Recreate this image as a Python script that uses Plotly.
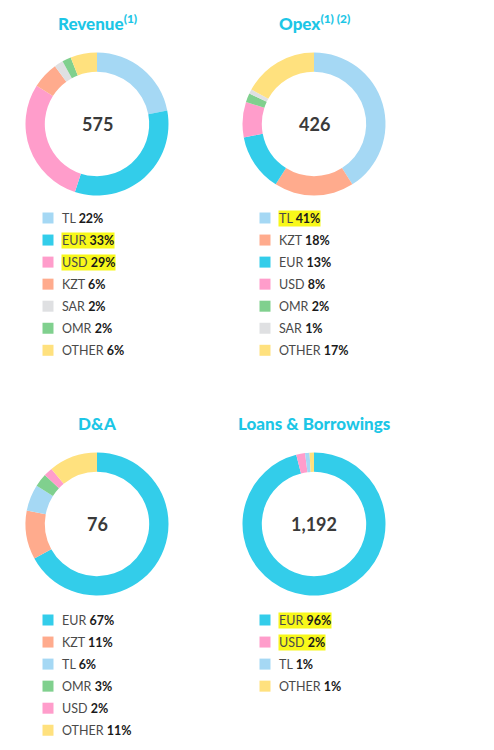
import plotly.graph_objects as go

# --- Data ---
revenue_labels = ["TL", "EUR", "USD", "KZT", "SAR", "OMR", "OTHER"]
revenue_values = [22, 33, 29, 6, 2, 2, 6]
revenue_marked = ["EUR", "USD"]
revenue_total = "575"

opex_labels = ["TL", "KZT", "EUR", "USD", "OMR", "SAR", "OTHER"]
opex_values = [41, 18, 13, 8, 2, 1, 17]
opex_marked = ["TL"]
opex_total = "426"

da_labels = ["EUR", "KZT", "TL", "OMR", "USD", "OTHER"]
da_values = [67, 11, 6, 3, 2, 11]
da_marked = []
da_total = "76"

loans_labels = ["EUR", "USD", "TL", "OTHER"]
loans_values = [96, 2, 1, 1]
loans_marked = ["EUR", "USD"]
loans_total = "1,192"

# --- Style ---
W, H = 494, 750
OFF = 8  # page body margin, the figure starts 8px in
colors = {
    "TL": "#A5D8F4",
    "EUR": "#33CDEA",
    "USD": "#FF9DCB",
    "KZT": "#FFAB8D",
    "SAR": "#DFE0E2",
    "OMR": "#80D08E",
    "OTHER": "#FFE17E",
}
title_color = "#1DC6E6"
font = "Lato"

panels = [
    dict(title="Revenue<sup>(1)</sup>", labels=revenue_labels, values=revenue_values,
         marked=revenue_marked, total=revenue_total, cx=97, cy=124, ty=22, lx=48, ly=218),
    dict(title="Opex<sup>(1) (2)</sup>", labels=opex_labels, values=opex_values,
         marked=opex_marked, total=opex_total, cx=314, cy=124, ty=22, lx=265, ly=218),
    dict(title="D&A", labels=da_labels, values=da_values,
         marked=da_marked, total=da_total, cx=97, cy=524, ty=423, lx=48, ly=620),
    dict(title="Loans & Borrowings", labels=loans_labels, values=loans_values,
         marked=loans_marked, total=loans_total, cx=314, cy=524, ty=423, lx=265, ly=620),
]
R = 71.5
ROW = 22.05
FW, FH = W - OFF, H - OFF

fig = go.Figure()
annotations = []

for p in panels:
    fig.add_trace(go.Pie(
        labels=p["labels"],
        values=p["values"],
        hole=0.73,
        sort=False,
        direction="clockwise",
        rotation=0,
        textinfo="none",
        hoverinfo="label+percent",
        marker=dict(colors=[colors[l] for l in p["labels"]], line=dict(width=0)),
        domain=dict(x=[(p["cx"] - OFF - R) / FW, (p["cx"] - OFF + R) / FW],
                    y=[1 - (p["cy"] - OFF + R) / FH, 1 - (p["cy"] - OFF - R) / FH]),
        showlegend=False,
    ))
    annotations.append(dict(
        x=p["cx"], y=p["ty"], xref="x", yref="y", text=p["title"], showarrow=False,
        font=dict(family=font, size=17, color=title_color, weight=900),
    ))
    annotations.append(dict(
        x=p["cx"], y=p["cy"], xref="x", yref="y", text="<b>" + p["total"] + "</b>",
        showarrow=False, font=dict(family=font, size=18, color="#3a3a3a"),
    ))
    rows = [p["ly"] + i * ROW for i in range(len(p["labels"]))]
    fig.add_trace(go.Scatter(
        x=[p["lx"]] * len(rows), y=rows, mode="markers", xaxis="x", yaxis="y",
        marker=dict(symbol="square", size=11, color=[colors[l] for l in p["labels"]],
                    line=dict(width=0)),
        hoverinfo="skip", showlegend=False,
    ))
    for lab, val, ry in zip(p["labels"], p["values"], rows):
        hl = lab in p["marked"]
        annotations.append(dict(
            x=p["lx"] + 12.5, y=ry, xref="x", yref="y", xanchor="left", showarrow=False,
            text=f"{lab} <b><span style='color:#1a1a1a'>{val}%</span></b>",
            font=dict(family=font, size=12.5, color="#4a4a4a"),
            bgcolor="#F8F81A" if hl else "rgba(0,0,0,0)", borderpad=0,
        ))

fig.update_layout(
    width=FW, height=FH,
    margin=dict(l=0, r=0, t=0, b=0),
    paper_bgcolor="white", plot_bgcolor="white",
    xaxis=dict(range=[OFF, W], visible=False, fixedrange=True, domain=[0, 1]),
    yaxis=dict(range=[H, OFF], visible=False, fixedrange=True, domain=[0, 1]),
    annotations=annotations,
)

fig.write_html("out.html")
